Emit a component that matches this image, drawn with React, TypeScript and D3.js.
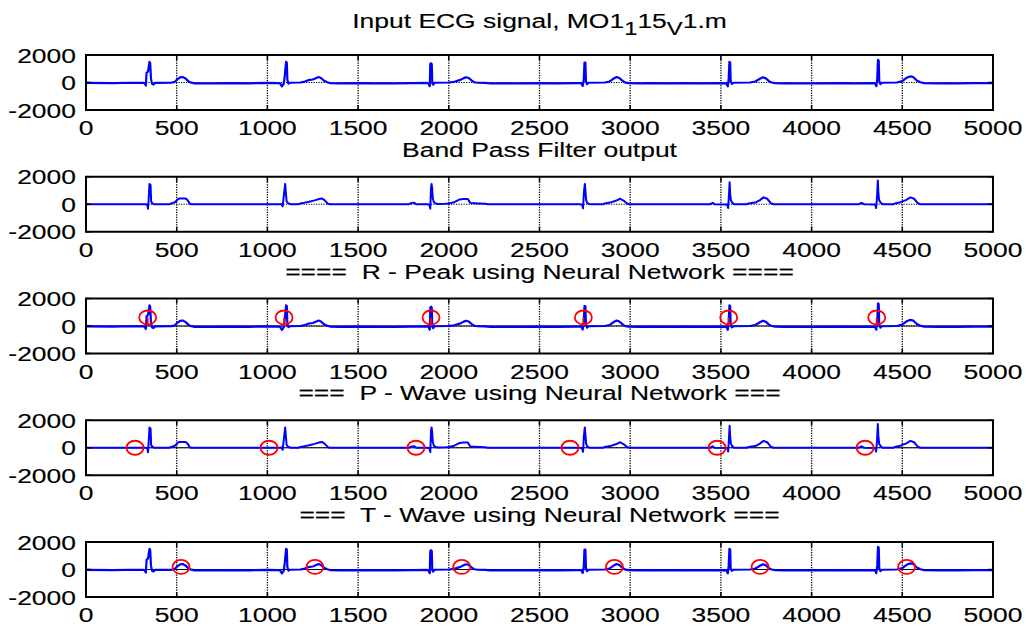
import React from 'react';
import * as d3 from 'd3';

// ---------- data ----------
const xTicks = [0, 500, 1000, 1500, 2000, 2500, 3000, 3500, 4000, 4500, 5000];
const yTicks = [-2000, 0, 2000];

const panelTitles = [
  'Input ECG signal',
  'Band Pass Filter output',
  '====  R - Peak using Neural Network ====',
  '===  P - Wave using Neural Network ===',
  '===  T - Wave using Neural Network ===',
];

// raw input ECG (sample index, amplitude)
const inputSignal: [number, number][] = [
  [0, -30], [150, -40], [250, -20], [315, -30],
  [322, -50], [330, -220], [334, 700], [342, 800], [350, 1500], [354, 1400], [358, 300], [364, -100], [372, -150], [380, -30],
  [470, -20], [490, 50], [505, 250], [520, 380], [533, 400], [548, 300], [565, 80], [580, -10],
  [600, -60], [700, -70], [800, -50], [900, -60], [1000, -30], [1060, -40],
  [1070, -60], [1080, -280], [1090, -100], [1096, 500], [1103, 1500], [1107, 1450], [1110, 200], [1116, -80], [1125, -20],
  [1180, 0], [1200, 40], [1225, 170], [1250, 220], [1270, 330], [1282, 400], [1295, 330], [1310, 150], [1330, 20], [1345, -40],
  [1400, -60], [1500, -50], [1600, -70], [1700, -60], [1800, -40], [1880, -30],
  [1888, -80], [1895, -270], [1898, 1350], [1902, 1400], [1906, 1350], [1909, -60], [1914, -150], [1922, -20],
  [2000, 0], [2030, 50], [2060, 170], [2080, 300], [2095, 380], [2110, 330], [2125, 150], [2140, 20], [2160, -20],
  [2200, -30], [2230, -70], [2300, -60], [2400, -60], [2500, -50], [2600, -70], [2700, -40],
  [2730, -50], [2738, -250], [2744, 200], [2748, 1450], [2753, 1450], [2756, 100], [2762, -120], [2770, -20],
  [2860, 0], [2885, 60], [2905, 250], [2925, 400], [2940, 330], [2955, 150], [2970, 10], [2990, -40],
  [3050, -60], [3100, -50], [3200, -70], [3300, -50], [3400, -60], [3500, -40],
  [3530, -60], [3538, -280], [3543, 300], [3547, 1500], [3551, 1450], [3554, 100], [3560, -100], [3570, -20],
  [3660, 0], [3690, 70], [3715, 270], [3732, 380], [3748, 300], [3765, 100], [3780, 0], [3800, -40],
  [3850, -70], [3950, -60], [4050, -70], [4150, -50], [4250, -60], [4330, -40],
  [4350, -70], [4357, -270], [4362, 300], [4366, 1650], [4370, 1600], [4373, 100], [4379, -120], [4388, -20],
  [4470, 0], [4500, 100], [4525, 350], [4545, 450], [4560, 400], [4580, 150], [4600, 20], [4620, -50],
  [4700, -60], [4800, -60], [4900, -50], [5000, -50],
];

// band-pass filtered ECG
const filteredSignal: [number, number][] = [
  [0, 0], [330, 0],
  [338, -50], [342, -330], [345, 300], [350, 1480], [353, 1100], [356, 1400], [359, 200], [366, 60], [375, 0],
  [460, 0], [470, 60], [490, 150], [505, 350], [515, 420], [550, 420], [560, 300], [572, 40], [580, 0],
  [1070, 0], [1078, 20], [1084, -150], [1092, 800], [1098, 1480], [1102, 800], [1106, 200], [1112, 100], [1120, 40], [1130, 0],
  [1170, 0], [1180, 50], [1200, 100], [1230, 180], [1260, 280], [1290, 400], [1300, 420], [1315, 300], [1333, 40], [1345, 0],
  [1780, 0], [1795, 100], [1810, 110], [1820, 0], [1880, 0],
  [1893, -30], [1898, -320], [1902, 1200], [1905, 1480], [1908, 1200], [1912, 400], [1918, 150], [1928, 50], [1940, 20],
  [1980, 30], [2000, 60], [2030, 150], [2060, 350], [2080, 380], [2105, 380], [2118, 100], [2140, 80], [2170, 60], [2200, 40], [2215, 0],
  [2720, 0], [2735, -30], [2740, -300], [2745, 900], [2750, 1480], [2753, 1000], [2757, 300], [2763, 100], [2775, 0],
  [2850, 0], [2865, 80], [2890, 120], [2920, 250], [2945, 400], [2965, 250], [2982, 50], [2995, 0],
  [3440, 0], [3455, 100], [3465, 0],
  [3535, -20], [3540, -280], [3545, 800], [3548, 1600], [3551, 800], [3555, 300], [3562, 120], [3572, 0],
  [3640, 0], [3660, 70], [3690, 120], [3715, 300], [3735, 500], [3755, 400], [3775, 80], [3790, 0],
  [4260, 0], [4275, 100], [4290, 0],
  [4350, -20], [4356, -280], [4361, 600], [4365, 1730], [4368, 900], [4372, 300], [4380, 120], [4392, 0],
  [4450, 0], [4465, 80], [4490, 150], [4520, 300], [4545, 500], [4565, 400], [4585, 80], [4600, 0], [5000, 0],
];

// detections
const rPeakMarks = [340, 1092, 1902, 2742, 3543, 4359];
const rPeakLevel = 620;
const pWaveMarks = [270, 1009, 1819, 2668, 3479, 4295];
const pWaveLevel = 0;
const tWaveMarks = [524, 1262, 2071, 2913, 3716, 4524];
const tWaveLevel = 190;

// ---------- layout ----------
const W = 1027;
const H = 626;
const axLeft = 86;
const axRight = 993;
const firstTop = 55;
const panelStep = 121.75;
const panelH = 55;
const FONT = 'Liberation Sans, Arial, Helvetica, sans-serif';
const FS = 21;
const SX = 1.26;

type Panel = {
  signal: [number, number][];
  width: number;
  marks: number[] | null;
  level: number;
  stems: boolean;
  zeroLine: boolean;
};

const panels: Panel[] = [
  { signal: inputSignal, width: 2.2, marks: null, level: 0, stems: false, zeroLine: false },
  { signal: filteredSignal, width: 2, marks: null, level: 0, stems: false, zeroLine: false },
  { signal: inputSignal, width: 2.2, marks: rPeakMarks, level: rPeakLevel, stems: true, zeroLine: true },
  { signal: filteredSignal, width: 2, marks: pWaveMarks, level: pWaveLevel, stems: false, zeroLine: true },
  { signal: inputSignal, width: 2.2, marks: tWaveMarks, level: tWaveLevel, stems: false, zeroLine: true },
];

const x = d3.scaleLinear().domain([0, 5000]).range([axLeft, axRight]);

const textProps = {
  fontFamily: FONT,
  fontSize: FS,
  fill: '#000',
  stroke: '#000',
  strokeWidth: 0.15,
};

function PanelView({ p, i }: { p: Panel; i: number }) {
  const top = firstTop + i * panelStep;
  const bottom = top + panelH;
  const y = d3.scaleLinear().domain([-2000, 2000]).range([bottom, top]);
  const line = d3
    .line<[number, number]>()
    .x((d) => x(d[0]))
    .y((d) => y(d[1]));
  const titleY = i === 0 ? top - 27 : top - 20;
  return (
    <g>
      {/* title */}
      {i === 0 ? (
        <text
          transform={`translate(${(axLeft + axRight) / 2},${titleY}) scale(${SX},1)`}
          textAnchor="middle"
          {...textProps}
        >
          {panelTitles[0] + ', MO1'}
          <tspan fontSize={FS * 0.9} dy={7}>1</tspan>
          <tspan dy={-7}>15</tspan>
          <tspan fontSize={FS * 0.9} dy={7}>V</tspan>
          <tspan dy={-7}>1.m</tspan>
        </text>
      ) : (
        <text
          transform={`translate(${(axLeft + axRight) / 2},${titleY}) scale(${SX},1)`}
          textAnchor="middle"
          {...textProps}
          style={{ whiteSpace: 'pre' }}
        >
          {panelTitles[i]}
        </text>
      )}
      {/* grid */}
      {xTicks.slice(1, -1).map((t) => (
        <line key={'gx' + t} x1={x(t)} x2={x(t)} y1={top} y2={bottom} stroke="#000" strokeWidth={1.3} strokeDasharray="1.2,1.3" />
      ))}
      <line x1={axLeft} x2={axRight} y1={y(0)} y2={y(0)} stroke="#000" strokeWidth={1.2} strokeDasharray="1.2,1.3" />
      {p.zeroLine && (
        <line x1={axLeft} x2={axRight} y1={y(0)} y2={y(0)} stroke="#000" strokeWidth={1.2} />
      )}
      {/* signal */}
      <path d={line(p.signal) || ''} fill="none" stroke="#0000ff" strokeWidth={p.width} strokeLinejoin="round" />
      {/* markers */}
      {p.marks &&
        p.marks.map((m) => (
          <g key={'m' + m}>
            {p.stems && <line x1={x(m)} x2={x(m)} y1={y(0)} y2={y(p.level)} stroke="#ff0000" strokeWidth={1.8} />}
            <ellipse cx={x(m)} cy={y(p.level)} rx={8.5} ry={7} fill="none" stroke="#ff0000" strokeWidth={1.8} />
          </g>
        ))}
      {/* ticks */}
      {xTicks.map((t) => (
        <g key={'tx' + t}>
          <line x1={x(t)} x2={x(t)} y1={bottom} y2={bottom - 5} stroke="#000" strokeWidth={1.5} />
          <line x1={x(t)} x2={x(t)} y1={top} y2={top + 5} stroke="#000" strokeWidth={1.5} />
          <text
            transform={`translate(${x(t)},${bottom + 25}) scale(${SX},1)`}
            textAnchor="middle"
            {...textProps}
          >
            {t}
          </text>
        </g>
      ))}
      {yTicks.map((t) => (
        <g key={'ty' + t}>
          <line x1={axLeft} x2={axLeft + 5} y1={y(t)} y2={y(t)} stroke="#000" strokeWidth={1.5} />
          <line x1={axRight} x2={axRight - 5} y1={y(t)} y2={y(t)} stroke="#000" strokeWidth={1.5} />
          <text
            transform={`translate(${axLeft - 10},${y(t) + 7.5}) scale(${SX},1)`}
            textAnchor="end"
            {...textProps}
          >
            {t}
          </text>
        </g>
      ))}
      {/* box */}
      <rect x={axLeft} y={top} width={axRight - axLeft} height={panelH} fill="none" stroke="#000" strokeWidth={2} />
    </g>
  );
}

export default function App() {
  return (
    <svg
      width={W}
      height={H}
      viewBox={`0 0 ${W} ${H}`}
      style={{ position: 'absolute', left: 0, top: 0, background: '#fff' }}
    >
      <rect x={0} y={0} width={W} height={H} fill="#fff" />
      {panels.map((p, i) => (
        <PanelView key={i} p={p} i={i} />
      ))}
    </svg>
  );
}
